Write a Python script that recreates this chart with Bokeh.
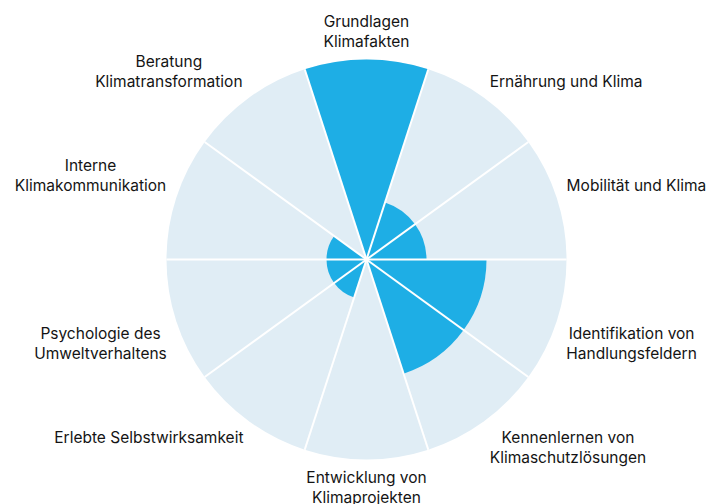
import math
from bokeh.plotting import figure
from bokeh.models import Range1d, ColumnDataSource
from bokeh.embed import file_html
from bokeh.resources import INLINE
from bokeh.core.properties import value

# ---- data ----
categories = [
    "Grundlagen\nKlimafakten",
    "Ernährung und Klima",
    "Mobilität und Klima",
    "Identifikation von\nHandlungsfeldern",
    "Kennenlernen von\nKlimaschutzlösungen",
    "Entwicklung von\nKlimaprojekten",
    "Erlebte Selbstwirksamkeit",
    "Psychologie des\nUmweltverhaltens",
    "Interne\nKlimakommunikation",
    "Beratung\nKlimatransformation",
]
values = [100, 30, 30, 60, 60, 0, 20, 20, 20, 0]
max_value = 100

# ---- style / layout ----
W, H = 708, 504
CX, CY = 366, 259          # pixel position of the pole
R = 200                    # outer radius in pixels
LABEL_PAD_X = 11
LABEL_PAD_Y = 8
FONT = "Inter"
FONT_SIZE = 15.5
LIGHT = "#e0edf5"
BLUE = "#1eaee5"
TEXT = "#141414"

n = len(categories)
step = 2 * math.pi / n
centers = [math.pi / 2 - i * step for i in range(n)]
starts = [c - step / 2 for c in centers]
ends = [c + step / 2 for c in centers]
radii = [v / max_value * R for v in values]

p = figure(width=W, height=H, x_range=Range1d(-CX, W - CX), y_range=Range1d(CY - H, CY),
           output_backend="svg", toolbar_location=None, min_border=0,
           x_axis_type=None, y_axis_type=None)
p.grid.visible = False
p.outline_line_color = None
p.background_fill_color = "white"
p.border_fill_color = "white"

# background sectors
p.wedge(x=0, y=0, radius=R, start_angle=starts, end_angle=ends,
        fill_color=LIGHT, line_color=None)
# value sectors
src = ColumnDataSource(dict(r=radii, s=starts, e=ends))
p.wedge(x=0, y=0, radius="r", start_angle="s", end_angle="e", source=src,
        fill_color=BLUE, line_color=None)
# separators
p.segment(x0=[0] * n, y0=[0] * n,
          x1=[R * math.cos(a) for a in starts], y1=[R * math.sin(a) for a in starts],
          line_color="white", line_width=2)

# approximate glyph widths (em) for centering multi-line labels within a block
CW = {'a': .56, 'b': .60, 'c': .55, 'd': .60, 'e': .57, 'f': .36, 'g': .60, 'h': .59,
      'i': .24, 'j': .24, 'k': .53, 'l': .24, 'm': .87, 'n': .59, 'o': .59, 'p': .60,
      'r': .37, 's': .52, 't': .36, 'u': .59, 'v': .53, 'w': .78, 'z': .52, 'ä': .56,
      'ö': .59, ' ': .27, 'B': .65, 'E': .60, 'G': .72, 'H': .72, 'I': .26, 'K': .66,
      'M': .86, 'P': .63, 'S': .64, 'U': .71}


def tw(s):
    return max(sum(CW.get(ch, .58) for ch in line) for line in s.split("\n")) * FONT_SIZE


lx, ly, base = [], [], []
for lab, a in zip(categories, centers):
    c, s = math.cos(a), math.sin(a)
    ax, ay = (R + LABEL_PAD_X) * c, (R + LABEL_PAD_Y) * s
    w = tw(lab)
    if abs(c) < 0.01:
        x = ax
    elif c > 0:
        x = ax + w / 2
    else:
        x = ax - w / 2
    lx.append(x)
    ly.append(ay)
    base.append("bottom" if s > 0 else "top")

lsrc = ColumnDataSource(dict(x=lx, y=ly, t=categories, b=base))
p.text(x="x", y="y", text="t", source=lsrc, text_align="center", text_baseline="b",
       text_font=value(FONT), text_font_size=f"{FONT_SIZE}px", text_color=TEXT,
       text_line_height=1.07)

open("out.html", "w").write(file_html(p, INLINE))
